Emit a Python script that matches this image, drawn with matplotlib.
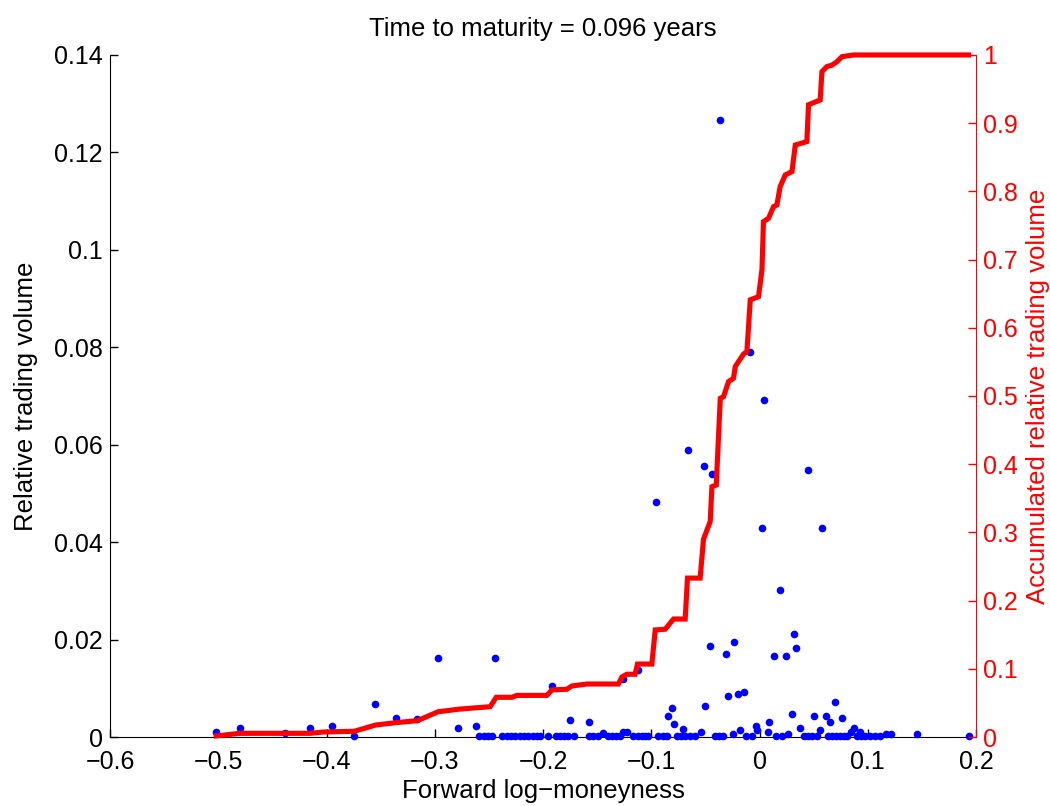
import numpy as np
import matplotlib.pyplot as plt
from matplotlib.ticker import FuncFormatter

plt.rcParams['font.family'] = ['Liberation Sans', 'DejaVu Sans']

# relative trading volume per strike (forward log-moneyness)
moneyness = [-0.502, -0.480, -0.438, -0.415, -0.395, -0.375, -0.355, -0.336,
             -0.316, -0.297, -0.279, -0.262, -0.244, -0.192, -0.175, -0.158,
             -0.126, -0.112, -0.096, -0.085, -0.081, -0.079, -0.071, -0.066,
             -0.054, -0.051, -0.050, -0.046, -0.044, -0.037, -0.031, -0.029,
             -0.025, -0.024, -0.020, -0.018, -0.014, -0.009, -0.003, -0.002,
             0.002, 0.004, 0.008, 0.009, 0.013, 0.019, 0.024, 0.026,
             0.030, 0.032, 0.034, 0.037, 0.045, 0.050, 0.056, 0.058,
             0.061, 0.065, 0.070, 0.076, 0.084, 0.087, 0.093, 0.117,
             0.121, 0.145, 0.193, -0.1446, -0.1261, -0.1224]
volume = [0.0010, 0.0019, 0.0008, 0.0019, 0.0023, 0.0002, 0.0068, 0.0039,
          0.0036, 0.0162, 0.0019, 0.0023, 0.0162, 0.0105, 0.0035, 0.0031,
          0.0120, 0.0138, 0.0482, 0.0043, 0.0060, 0.0027, 0.0016, 0.0589,
          0.0011, 0.0556, 0.0064, 0.0187, 0.0540, 0.1267, 0.0170, 0.0084,
          0.0006, 0.0196, 0.0088, 0.0014, 0.0092, 0.0790, 0.0023, 0.0014,
          0.0429, 0.0692, 0.0010, 0.0031, 0.0166, 0.0302, 0.0166, 0.0006,
          0.0047, 0.0211, 0.0183, 0.0018, 0.0548, 0.0043, 0.0014, 0.0429,
          0.0043, 0.0031, 0.0072, 0.0039, 0.0010, 0.0018, 0.0010, 0.0006,
          0.0006, 0.0006, 0.0002, 0.0008, 0.0011, 0.0011]

# strikes with almost no volume
tiny_moneyness = [-0.259, -0.255, -0.251, -0.247, -0.2376, -0.2335, -0.2295,
                  -0.2256, -0.2215, -0.2175, -0.2136, -0.2095, -0.2055, -0.2028,
                  -0.1954, -0.188, -0.1843, -0.1806, -0.1769, -0.1714, -0.1575,
                  -0.1538, -0.1492, -0.140, -0.1363, -0.1326, -0.1289, -0.1168,
                  -0.1122, -0.1085, -0.1058, -0.103, -0.0938, -0.0891, -0.0855,
                  -0.0762, -0.0725, -0.0688, -0.0642, -0.0596, -0.0411, -0.0374,
                  -0.0337, -0.0125, -0.0069, 0.0152, 0.0208, 0.0411, 0.0448,
                  0.0485, 0.0531, 0.0633, 0.067, 0.0707, 0.0744, 0.0781, 0.0808,
                  0.090, 0.0937, 0.0974, 0.102, 0.1067, 0.1113]
tiny_volume = [0.0002] * len(tiny_moneyness)

# accumulated relative trading volume
cum_x = [-0.502, -0.480, -0.415, -0.403, -0.3745, -0.3545, -0.336, -0.316,
         -0.297, -0.2766, -0.2489, -0.2433, -0.2288, -0.2242, -0.1965, -0.1919,
         -0.178, -0.1734, -0.1596, -0.1304, -0.1272, -0.1226, -0.115, -0.1128,
         -0.0995, -0.0964, -0.0872, -0.0795, -0.0687, -0.0666, -0.0549, -0.0518,
         -0.0456, -0.044, -0.040, -0.0363, -0.0333, -0.0287, -0.0241, -0.0225,
         -0.0148, -0.0117, -0.0086, -0.001, 0.0022, 0.0036, 0.0083, 0.0129,
         0.016, 0.019, 0.0237, 0.0299, 0.033, 0.0437, 0.0452, 0.056,
         0.0576, 0.0622, 0.0668, 0.0714, 0.0761, 0.0868, 0.193]
cum_vol = [0.0015, 0.0054, 0.0054, 0.0073, 0.0084, 0.0176, 0.021, 0.024,
           0.037, 0.041, 0.0444, 0.0582, 0.0582, 0.061, 0.061, 0.069,
           0.070, 0.0748, 0.0777, 0.0777, 0.088, 0.092, 0.092, 0.107,
           0.107, 0.157, 0.158, 0.173, 0.173, 0.233, 0.233, 0.290,
           0.316, 0.367, 0.3695, 0.4966, 0.499, 0.521, 0.526, 0.543,
           0.5616, 0.565, 0.641, 0.6456, 0.6848, 0.7556, 0.7606, 0.7776,
           0.78, 0.807, 0.824, 0.829, 0.868, 0.873, 0.927, 0.934,
           0.9755, 0.983, 0.985, 0.990, 0.9975, 1.0, 1.0]

x_ticks = [-0.6, -0.5, -0.4, -0.3, -0.2, -0.1, 0, 0.1, 0.2]
left_ticks = [0, 0.02, 0.04, 0.06, 0.08, 0.1, 0.12, 0.14]
right_ticks = [0, 0.1, 0.2, 0.3, 0.4, 0.5, 0.6, 0.7, 0.8, 0.9, 1]

fmt = FuncFormatter(lambda v, p: ('%g' % round(v, 4)).replace('-', '\u2212'))

fig = plt.figure(figsize=(10.5, 8.06), dpi=100)
ax = fig.add_axes([0.1048, 0.0856, 0.8248, 0.8462])
ax2 = ax.twinx()

ax.plot(moneyness, volume, 'o', color='blue', markersize=5.5,
        markeredgewidth=0, clip_on=False, zorder=3)
ax.plot(tiny_moneyness, tiny_volume, 'o', color='blue', markersize=5.5,
        markeredgewidth=0, clip_on=False, zorder=3)
ax2.plot(cum_x, cum_vol, '-', color='red', linewidth=3.7,
         solid_joinstyle='miter', clip_on=False)

ax.set_xlim(-0.6, 0.2)
ax.set_ylim(0, 0.14)
ax2.set_ylim(0, 1)
ax.set_xticks(x_ticks)
ax.set_yticks(left_ticks)
ax2.set_yticks(right_ticks)
ax.xaxis.set_major_formatter(fmt)
ax.yaxis.set_major_formatter(fmt)
ax2.yaxis.set_major_formatter(fmt)

for a in (ax, ax2):
    a.spines['top'].set_visible(False)
ax.spines['right'].set_visible(False)
ax2.spines['left'].set_visible(False)
ax2.spines['bottom'].set_visible(False)
ax2.spines['right'].set_color('red')

ax.tick_params(axis='y', direction='in', length=6, width=1,
               labelsize=18, pad=5, colors='black')
ax.tick_params(axis='x', direction='in', length=6, width=1,
               labelsize=18, pad=9, colors='black')
ax2.tick_params(axis='y', direction='in', length=6, width=1,
                labelsize=18, pad=5, colors='red')

ax.set_xlabel('Forward log\u2212moneyness', fontsize=18.5, labelpad=4)
ax.set_ylabel('Relative trading volume', fontsize=18.5, labelpad=12)
ax2.set_ylabel('Accumulated relative trading volume', fontsize=18.5,
               color='red', labelpad=6)
ax.set_title('Time to maturity = 0.096 years', fontsize=18.5, pad=14)

fig.savefig('out.png', dpi=100)
